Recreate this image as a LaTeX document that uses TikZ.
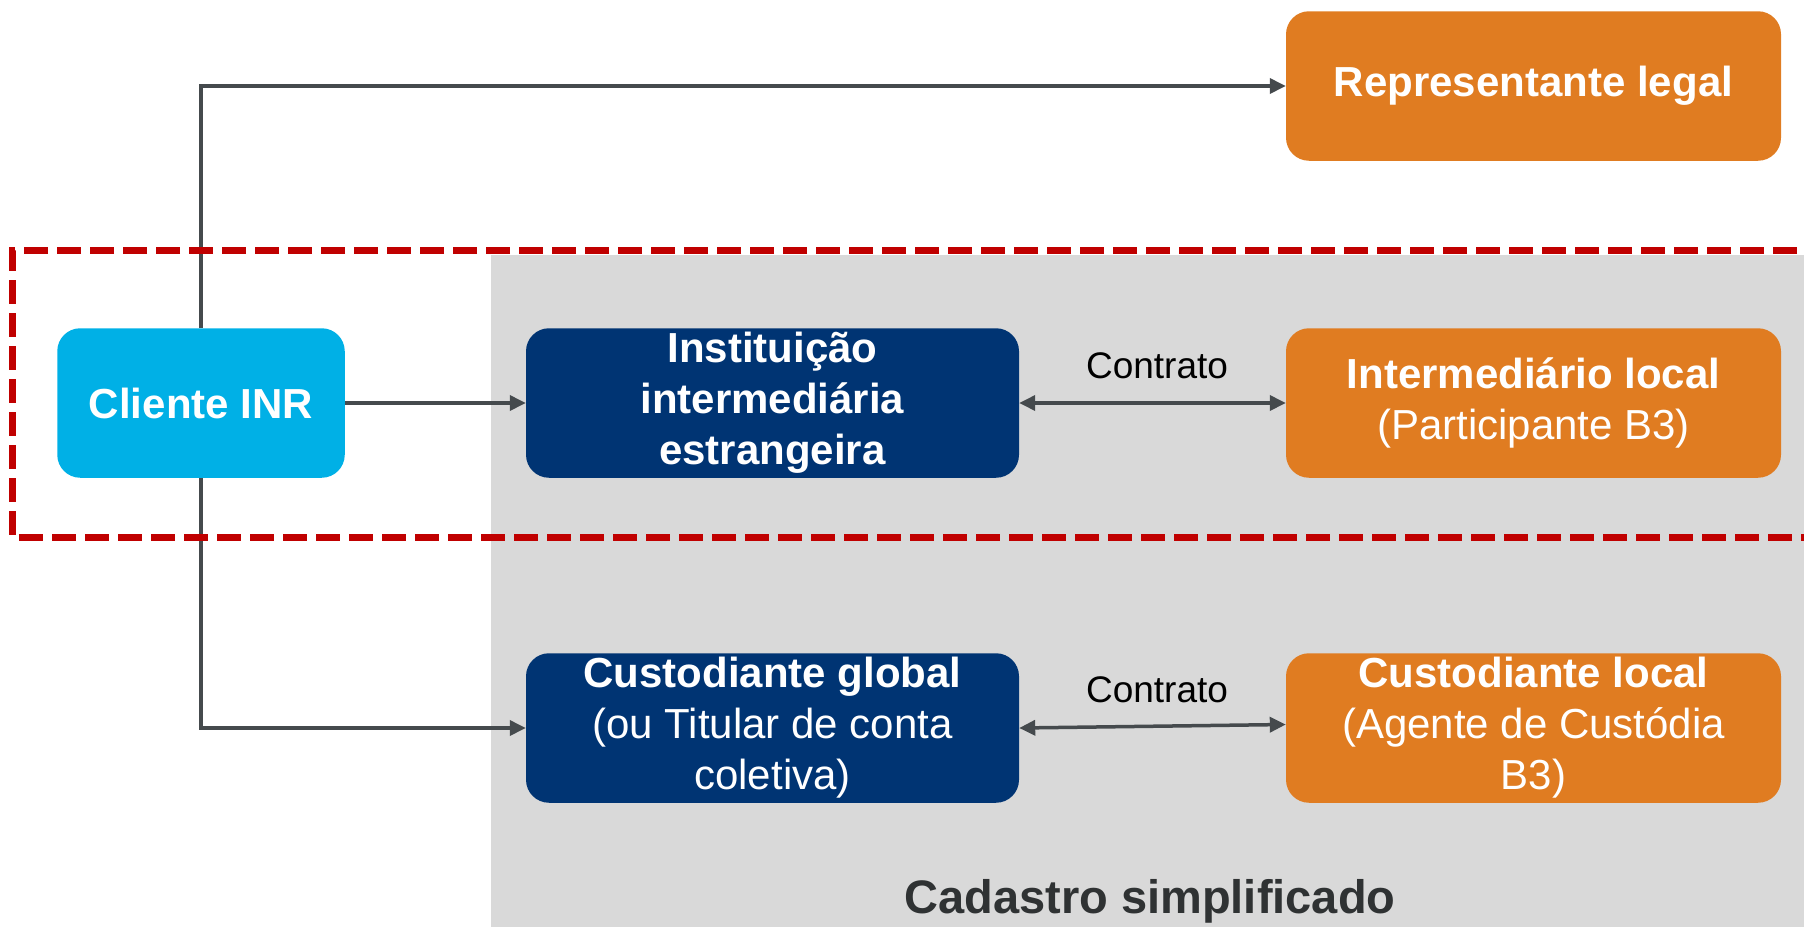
\documentclass[tikz,border=0pt]{standalone}
\usepackage{fontspec}
\setmainfont{Liberation Sans}
\usetikzlibrary{arrows.meta}
\pgfdeclarelayer{bglayer}
\pgfdeclarelayer{linelayer}
\pgfdeclarelayer{dashlayer}
\pgfsetlayers{bglayer,linelayer,dashlayer,main}
\definecolor{orangeB}{HTML}{E07C21}
\definecolor{cyanB}{HTML}{00B0E6}
\definecolor{navyB}{HTML}{003473}
\definecolor{grayB}{HTML}{D9D9D9}
\definecolor{redB}{HTML}{C00000}
\definecolor{lineB}{HTML}{454A4D}
\definecolor{textB}{HTML}{2F3233}
\begin{document}
\begin{tikzpicture}[x=1pt,y=-1pt,
  box/.style={rounded corners=23pt, inner sep=0pt, text=white, align=center,
    minimum height=149.5pt, font=\fontsize{42}{51}\selectfont},
  wbox/.style={box, minimum width=495pt},
  mbox/.style={box, minimum width=493pt},
  arr/.style={draw=lineB, line width=3.5pt, -{Triangle[length=16pt,width=15pt]}},
  darr/.style={draw=lineB, line width=3.5pt, {Triangle[length=16pt,width=15pt]}-{Triangle[length=16pt,width=15pt]}},
  lbl/.style={font=\fontsize{37}{44}\selectfont, text=black, inner sep=0pt},
  dashbox/.style={draw=redB, line width=7pt, dash pattern=on 24pt off 9pt}
]
\useasboundingbox (0,0) rectangle (1804,927);
\clip (0,0) rectangle (1804,927);

% nodes
\node[box, fill=cyanB, minimum width=287.5pt] (cliente) at (201,403) {\textbf{Cliente INR}};
\node[wbox, fill=orangeB] (rep) at (1533.5,86) {\textbf{Representante legal}};
\node[mbox, fill=navyB] (inst) at (772.5,403) {\textbf{Instituição}\\\textbf{intermediária}\\\textbf{estrangeira}};
\node[wbox, fill=orangeB] (inter) at (1533.5,403) {\textbf{Intermediário local}\\(Participante B3)};
\node[mbox, fill=navyB] (custg) at (772.5,728) {\textbf{Custodiante global}\\(ou Titular de conta\\coletiva)};
\node[wbox, fill=orangeB] (custl) at (1533.5,728) {\textbf{Custodiante local}\\(Agente de Custódia\\B3)};

\node[lbl] (c1) at (1157,366) {Contrato};
\node[lbl] (c2) at (1157,690) {Contrato};
\node[font=\fontsize{47}{56}\selectfont\bfseries, text=textB, inner sep=0pt, anchor=base] (cad) at (1150,913) {Cadastro simplificado};

% background
\begin{pgfonlayer}{bglayer}
  \fill[grayB] (491,255) rectangle (1804,927);
\end{pgfonlayer}

% connectors
\begin{pgfonlayer}{linelayer}
  \draw[arr] (cliente.north) |- (rep.west);
  \draw[arr] (cliente.south) |- (custg.west);
  \draw[arr] (cliente.east) -- (inst.west);
  \draw[darr] (inst.east) -- (inter.west);
  \draw[darr] (custg.east) -- ([yshift=3.5pt]custl.west);
\end{pgfonlayer}

% red dashed frame
\begin{pgfonlayer}{dashlayer}
  \draw[dashbox] (1830,250) -- (12,250) -- (12,537) -- (1830,537);
\end{pgfonlayer}
\end{tikzpicture}
\end{document}
